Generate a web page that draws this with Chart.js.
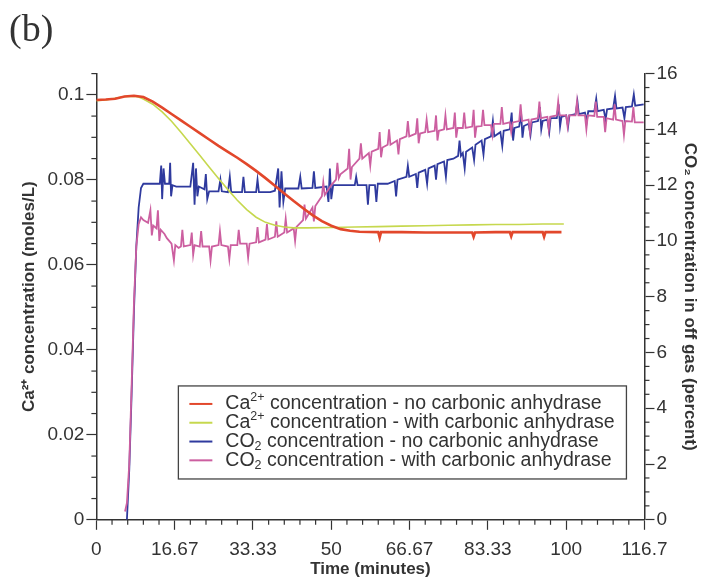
<!DOCTYPE html>
<html>
<head>
<meta charset="utf-8">
<script src="https://cdn.jsdelivr.net/npm/chart.js@4/dist/chart.umd.min.js"></script>
<style>
  body { margin: 0; background: #fff; }
  #wrap { width: 701px; height: 578px; }
</style>
</head>
<body>
<div id="wrap"><canvas id="chart" width="701" height="578"></canvas></div>
<script>
// tick labels
const xTickLabels = ['0', '16.67', '33.33', '50', '66.67', '83.33', '100', '116.7'];
const yLeftTickLabels = ['0', '0.02', '0.04', '0.06', '0.08', '0.1'];
const yRightTickLabels = ['0', '2', '4', '6', '8', '10', '12', '14', '16'];

// Ca2+ - no carbonic anhydrase (moles/L)
const caNoTime = [0, 2, 4, 6, 8, 10, 12, 14, 16, 18, 20, 22, 24, 26, 28, 30, 32, 34, 36, 38, 40, 42, 44, 46, 48, 50, 52, 54, 56, 60, 60.3, 60.6, 65, 70, 75, 80, 80.3, 80.6, 85, 88, 88.3, 88.6, 90, 95, 95.3, 95.6, 99];
const caNoValue = [0.0988, 0.0989, 0.0991, 0.0996, 0.0998, 0.0995, 0.0984, 0.0970, 0.0955, 0.0940, 0.0925, 0.0910, 0.0895, 0.0880, 0.0866, 0.0852, 0.0837, 0.0821, 0.0804, 0.0786, 0.0768, 0.0750, 0.0733, 0.0717, 0.0703, 0.0692, 0.0684, 0.0680, 0.0678, 0.0677, 0.0664, 0.0677, 0.0677, 0.0676, 0.0676, 0.0676, 0.0666, 0.0676, 0.0677, 0.0677, 0.0667, 0.0677, 0.0677, 0.0677, 0.0666, 0.0677, 0.0677];

// Ca2+ - with carbonic anhydrase (moles/L)
const caWithTime = [0, 2, 4, 6, 8, 9, 10, 12, 14, 16, 18, 20, 22, 24, 26, 28, 30, 32, 34, 36, 38, 40, 42, 45, 50, 55, 60, 65, 70, 75, 80, 85, 90, 95, 99.5];
const caWithValue = [0.0986, 0.0988, 0.0992, 0.0996, 0.0997, 0.0995, 0.0990, 0.0978, 0.0960, 0.0938, 0.0912, 0.0885, 0.0858, 0.0830, 0.0803, 0.0777, 0.0752, 0.0730, 0.0712, 0.0700, 0.0693, 0.0689, 0.0687, 0.0687, 0.0688, 0.0689, 0.0690, 0.0691, 0.0692, 0.0693, 0.0694, 0.0695, 0.0695, 0.0696, 0.0696];

// CO2 - no carbonic anhydrase (percent)
const co2NoTime = [6.5, 7, 7.5, 8, 8.5, 9, 9.5, 10, 12, 13.5, 13.8, 14.0, 14.3, 14.6, 15.5, 15.7, 15.9, 16.2, 17, 20, 20.6, 20.9, 21.2, 21.5, 21.8, 23, 23.3, 23.6, 24, 26, 26.4, 26.7, 28, 28.4, 28.7, 31, 31.3, 31.6, 34, 34.3, 34.6, 37, 38, 38.7, 39, 39.4, 39.8, 40.2, 43, 43.4, 43.7, 46, 46.3, 46.6, 49, 49.4, 49.7, 50, 50.4, 53, 55, 55.3, 55.6, 57.5, 57.8, 58.1, 59.3, 59.6, 59.9, 62, 63.5, 63.8, 64.1, 66, 66.3, 66.6, 68, 68.3, 68.6, 70, 70.4, 70.7, 72, 72.3, 72.6, 74, 74.4, 74.7, 76, 77, 77.3, 77.6, 78, 78.4, 78.7, 80, 80.4, 80.7, 82, 82.4, 82.7, 84, 84.4, 84.7, 86, 86.4, 86.7, 88, 88.4, 88.7, 89, 90, 90.4, 90.7, 91, 92, 92.4, 92.7, 94, 94.4, 94.7, 95, 96, 96.4, 96.7, 98, 98.4, 98.7, 99, 100, 100.4, 100.7, 102, 102.4, 102.7, 104, 104.4, 104.7, 106, 106.4, 106.7, 108, 108.4, 108.7, 110, 110.4, 110.7, 112, 112.4, 112.7, 114, 114.4, 114.7, 116.5];
const co2NoValue = [0, 1.8, 4.5, 7.5, 9.8, 11.2, 11.9, 12.05, 12.05, 12.05, 12.7, 11.5, 12.6, 12.05, 12.05, 12.8, 11.6, 12.0, 11.95, 11.95, 12.8, 11.3, 12.6, 11.6, 11.95, 11.85, 12.4, 11.5, 11.78, 11.78, 12.2, 11.78, 11.75, 12.3, 11.75, 11.75, 12.3, 11.75, 11.75, 12.2, 11.75, 11.75, 11.8, 12.6, 11.2, 12.5, 11.4, 11.88, 11.88, 12.3, 11.88, 11.9, 12.5, 11.9, 11.95, 11.4, 12.6, 11.5, 12.0, 12.0, 12.0, 12.3, 12.0, 12.0, 11.3, 12.0, 12.0, 11.4, 12.05, 12.05, 12.15, 11.6, 12.2, 12.3, 12.7, 12.3, 12.4, 11.9, 12.45, 12.55, 12.05, 12.6, 12.7, 12.2, 12.75, 12.85, 12.3, 12.9, 12.95, 13.05, 13.6, 13.05, 13.15, 12.6, 13.2, 13.35, 12.9, 13.45, 13.6, 13.1, 13.65, 13.75, 14.3, 13.75, 13.9, 13.4, 13.95, 14.0, 14.6, 13.6, 14.05, 14.1, 14.6, 13.7, 14.12, 14.2, 13.8, 14.25, 14.3, 14.8, 14.0, 14.3, 14.35, 13.9, 14.4, 14.4, 14.9, 14.1, 14.45, 14.5, 14.1, 14.5, 14.55, 15.0, 14.55, 14.6, 14.3, 14.65, 14.65, 15.1, 14.65, 14.7, 14.35, 14.72, 14.75, 15.2, 14.75, 14.78, 14.4, 14.8, 14.82, 15.25, 14.85, 14.9];

// CO2 - with carbonic anhydrase (percent)
const co2WithTime = [6.1, 6.5, 7, 7.5, 8, 8.5, 9, 9.5, 10, 11, 11.5, 11.8, 12.1, 12.8, 13.1, 13.4, 13.7, 14.5, 15, 16, 16.5, 16.8, 17.5, 18, 18.3, 18.6, 20, 20.3, 20.6, 20.9, 22, 22.3, 22.6, 24, 24.3, 24.6, 26, 26.3, 26.6, 28, 28.3, 28.6, 30, 30.3, 30.6, 32, 32.3, 32.6, 34, 34.3, 34.6, 36, 36.3, 36.6, 38, 38.3, 38.6, 40, 40.3, 40.6, 42, 42.3, 42.6, 44, 44.3, 44.6, 46, 46.3, 46.6, 48, 48.3, 48.6, 50, 51, 51.3, 51.6, 52, 53.5, 53.8, 54.1, 54.4, 56, 56.3, 56.6, 58, 58.3, 58.6, 60, 60.3, 60.6, 60.9, 62, 62.3, 62.6, 64, 64.3, 64.6, 66, 66.3, 66.6, 68, 68.3, 68.6, 68.9, 70, 70.3, 70.6, 72, 72.3, 72.6, 72.9, 74, 74.3, 74.6, 76, 76.3, 76.6, 76.9, 78, 78.3, 78.6, 80, 80.3, 80.6, 80.9, 82, 82.3, 82.6, 84, 84.3, 84.6, 86, 86.3, 86.6, 88, 88.3, 88.6, 90, 90.3, 90.6, 92, 92.3, 92.6, 94, 94.3, 94.6, 96, 96.3, 96.6, 98, 98.3, 98.6, 100, 100.3, 100.6, 102, 102.3, 102.6, 104, 104.3, 104.6, 106, 106.3, 106.6, 108, 108.3, 108.6, 110, 110.3, 110.6, 112, 112.3, 112.6, 114, 114.3, 114.6, 116.5];
const co2WithValue = [0.3, 0.6, 2.0, 4.8, 7.8, 9.8, 10.6, 10.85, 10.75, 10.65, 11.1, 10.2, 10.55, 10.45, 11.1, 10.0, 10.4, 10.25, 10.1, 9.9, 9.3, 9.85, 9.75, 9.8, 10.4, 9.8, 9.85, 10.3, 9.5, 9.85, 9.8, 10.35, 9.8, 9.8, 9.3, 9.8, 9.85, 10.35, 9.85, 9.8, 9.35, 9.85, 9.85, 10.4, 9.9, 9.9, 9.4, 9.9, 9.95, 10.5, 9.95, 10.05, 10.6, 10.05, 10.15, 10.7, 10.15, 10.3, 10.8, 10.3, 10.45, 10.0, 10.5, 10.75, 11.3, 10.8, 11.2, 10.7, 11.25, 11.6, 12.1, 11.65, 12.0, 12.2, 12.8, 12.25, 12.4, 12.6, 13.3, 12.2, 12.65, 12.95, 13.5, 12.95, 13.15, 12.7, 13.2, 13.3, 13.9, 13.0, 13.35, 13.45, 14.0, 13.45, 13.6, 13.1, 13.65, 13.75, 14.3, 13.75, 13.85, 14.4, 13.5, 13.85, 13.9, 14.35, 13.9, 13.95, 14.5, 13.6, 13.95, 14.0, 14.5, 14.0, 14.05, 14.6, 13.7, 14.05, 14.05, 14.6, 14.05, 14.1, 14.7, 13.7, 14.1, 14.12, 14.7, 14.15, 14.15, 13.8, 14.2, 14.2, 14.8, 14.2, 14.25, 13.9, 14.25, 14.3, 14.9, 14.3, 14.35, 13.9, 14.35, 14.4, 15.0, 14.4, 14.45, 14.0, 14.45, 14.5, 15.0, 14.5, 14.5, 14.1, 14.5, 14.5, 15.0, 14.5, 14.5, 14.0, 14.5, 14.48, 15.0, 14.45, 14.45, 13.9, 14.4, 14.35, 14.9, 14.35, 14.3, 13.8, 14.3, 14.28, 14.8, 14.25, 14.25];

const legendRows = [
  { color: '#e2472b', parts: [['Ca', 0], ['2+', 1], [' concentration - no carbonic anhydrase', 0]] },
  { color: '#c6d84e', parts: [['Ca', 0], ['2+', 1], [' concentration - with carbonic anhydrase', 0]] },
  { color: '#2f3a9e', parts: [['CO', 0], ['2', -1], [' concentration - no carbonic anhydrase', 0]] },
  { color: '#cc5fa0', parts: [['CO', 0], ['2', -1], [' concentration - with carbonic anhydrase', 0]] }
];

const FONT = "'Liberation Sans', Arial, Helvetica, sans-serif";
const INK = '#333';

const toPoints = (ts, vs) => ts.map((t, i) => ({ x: t, y: vs[i] }));

function isMajor(scale, i) {
  return scale.axis === 'x' ? i % 5 === 0 : i % 4 === 0;
}

// short minor ticks + boxed legend
const extrasPlugin = {
  id: 'extras',
  afterDraw(chart) {
    const ctx = chart.ctx;
    const area = chart.chartArea;
    ctx.save();
    ctx.strokeStyle = INK;
    ctx.lineWidth = 1.2;
    const minorLen = 5;
    Object.values(chart.scales).forEach(scale => {
      scale.ticks.forEach((tk, i) => {
        if (isMajor(scale, i)) return;
        const p = scale.getPixelForValue(tk.value);
        ctx.beginPath();
        if (scale.axis === 'x') {
          ctx.moveTo(p, area.bottom); ctx.lineTo(p, area.bottom + minorLen);
        } else if (scale.position === 'left') {
          ctx.moveTo(area.left, p); ctx.lineTo(area.left - minorLen, p);
        } else {
          ctx.moveTo(area.right, p); ctx.lineTo(area.right + minorLen, p);
        }
        ctx.stroke();
      });
    });

    // legend box
    const w = area.right - area.left, h = area.bottom - area.top;
    const bx = area.left + 0.1496 * w, by = area.top + 0.70 * h;
    const bw = 0.8175 * w, bh = 0.2085 * h;
    ctx.lineWidth = 1.3;
    ctx.strokeStyle = '#444';
    ctx.fillStyle = '#fff';
    ctx.fillRect(bx, by, bw, bh);
    ctx.strokeRect(bx, by, bw, bh);
    const rowH = 18.8;
    const fs = 19.5;
    legendRows.forEach((row, r) => {
      const cy = by + 18 + r * rowH;
      ctx.strokeStyle = row.color;
      ctx.lineWidth = 2;
      ctx.beginPath();
      ctx.moveTo(bx + 11, cy); ctx.lineTo(bx + 34, cy);
      ctx.stroke();
      let tx = bx + 47;
      ctx.fillStyle = INK;
      ctx.textBaseline = 'middle';
      row.parts.forEach(([txt, mode]) => {
        const size = mode === 0 ? fs : fs * 0.64;
        const dy = mode === 1 ? -6 : (mode === -1 ? 5 : 0);
        ctx.font = size + 'px ' + FONT;
        ctx.fillText(txt, tx, cy + dy);
        tx += ctx.measureText(txt).width;
      });
    });
    ctx.restore();
  }
};

function makeTicks(n, step) {
  return axis => {
    axis.ticks = [];
    for (let i = 0; i <= n; i++) axis.ticks.push({ value: i * step });
  };
}

const tickFont = { family: FONT, size: 19 };
const titleFont = { family: FONT, size: 17, weight: 'bold' };

new Chart(document.getElementById('chart'), {
  type: 'line',
  data: {
    datasets: [
      { label: 'Ca no CA', data: toPoints(caNoTime, caNoValue), yAxisID: 'y', borderColor: '#e2472b', borderWidth: 2.6 },
      { label: 'Ca with CA', data: toPoints(caWithTime, caWithValue), yAxisID: 'y', borderColor: '#c6d84e', borderWidth: 1.6 },
      { label: 'CO2 with CA', data: toPoints(co2WithTime, co2WithValue), yAxisID: 'y2', borderColor: '#cc5fa0', borderWidth: 1.8 },
      { label: 'CO2 no CA', data: toPoints(co2NoTime, co2NoValue), yAxisID: 'y2', borderColor: '#2f3a9e', borderWidth: 1.8 }
    ]
  },
  options: {
    responsive: false,
    animation: false,
    elements: { point: { radius: 0 }, line: { tension: 0 } },
    layout: { padding: { left: 9, right: -5, top: 0, bottom: -2 } },
    plugins: {
      legend: { display: false },
      tooltip: { enabled: false },
      title: {
        display: true, text: '(b)', align: 'start', color: INK,
        font: { family: "'Liberation Serif', 'DejaVu Serif', serif", size: 38, weight: 'normal' },
        padding: { top: 8, bottom: 20 }
      }
    },
    scales: {
      x: {
        type: 'linear', min: 0, max: 350 / 3,
        afterBuildTicks: makeTicks(35, 10 / 3),
        ticks: {
          autoSkip: false, maxRotation: 0, color: INK, font: tickFont, padding: 9,
          callback: (v, i) => (i % 5 === 0 ? xTickLabels[i / 5] : '')
        },
        grid: { drawOnChartArea: false, tickLength: 10, tickWidth: 1.2, tickColor: c => (c.index % 5 === 0 ? INK : 'rgba(0,0,0,0)') },
        border: { color: INK, width: 1.5 },
        title: { display: true, text: 'Time (minutes)', color: INK, font: titleFont, padding: { top: -11, bottom: 0 } }
      },
      y: {
        position: 'left', min: 0, max: 0.105,
        afterBuildTicks: makeTicks(21, 0.005),
        ticks: {
          autoSkip: false, color: INK, font: tickFont, padding: 2,
          callback: (v, i) => (i % 4 === 0 ? yLeftTickLabels[i / 4] : '')
        },
        grid: { drawOnChartArea: false, tickLength: 10, tickWidth: 1.2, tickColor: c => (c.index % 4 === 0 ? INK : 'rgba(0,0,0,0)') },
        border: { color: INK, width: 1.5 },
        title: { display: true, text: 'Ca²⁺ concentration (moles/L)', color: INK, font: titleFont, padding: { top: 10, bottom: 6 } }
      },
      y2: {
        position: 'right', min: 0, max: 16,
        afterBuildTicks: makeTicks(32, 0.5),
        ticks: {
          autoSkip: false, color: INK, font: tickFont, padding: 2,
          callback: (v, i) => (i % 4 === 0 ? yRightTickLabels[i / 4] : '')
        },
        grid: { drawOnChartArea: false, tickLength: 10, tickWidth: 1.2, tickColor: c => (c.index % 4 === 0 ? INK : 'rgba(0,0,0,0)') },
        border: { color: INK, width: 1.5 },
        title: { display: true, text: 'CO₂ concentration in off gas (percent)', color: INK, font: titleFont, padding: { top: 6, bottom: 0 } }
      }
    }
  },
  plugins: [extrasPlugin]
});
</script>
</body>
</html>
